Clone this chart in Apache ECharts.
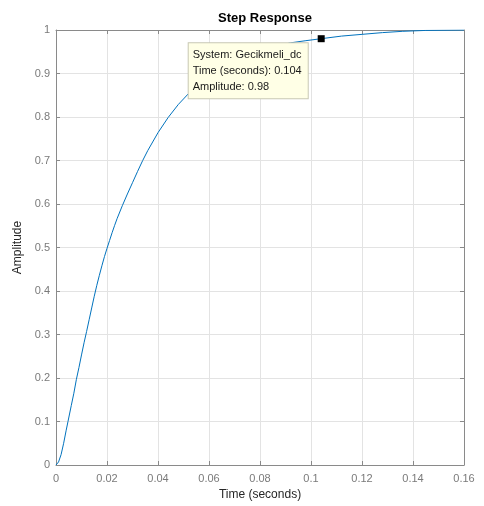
<!DOCTYPE html>
<html lang="en">
    <head>
        <meta charset="UTF-8" />
        <title>Step Response</title>
        <style>
            * {
                box-sizing: border-box;
                margin: 0;
                padding: 0;
            }
            body {
                background: #fff;
            }
            .container {
                width: 484px;
                height: 506px;
            }
        </style>
    </head>
    <body>
        <div class="container" id="chart"></div>
        <script src="https://cdn.jsdelivr.net/npm/echarts@6/dist/echarts.min.js"></script>
        <script>
            // 读图得到的数据点 (time, amplitude)
            var times = [0, 0.001, 0.002, 0.003, 0.004, 0.0047, 0.006, 0.007, 0.008, 0.009, 0.01, 0.011, 0.012, 0.013, 0.014, 0.015, 0.016, 0.017, 0.018, 0.019, 0.02, 0.021, 0.022, 0.023, 0.024, 0.026, 0.028, 0.03, 0.032, 0.034, 0.036, 0.04, 0.044, 0.048, 0.052, 0.056, 0.06, 0.065, 0.07, 0.075, 0.08, 0.086, 0.092, 0.098, 0.104, 0.112, 0.12, 0.128, 0.136, 0.145, 0.16]
            var amps = [0, 0.007, 0.024, 0.05, 0.08, 0.1, 0.137, 0.165, 0.197, 0.224, 0.253, 0.281, 0.307, 0.334, 0.361, 0.388, 0.413, 0.436, 0.458, 0.479, 0.498, 0.516, 0.534, 0.551, 0.567, 0.596, 0.623, 0.649, 0.675, 0.7, 0.723, 0.764, 0.799, 0.829, 0.854, 0.876, 0.894, 0.913, 0.929, 0.942, 0.952, 0.9625, 0.9705, 0.9755, 0.98, 0.986, 0.99, 0.994, 0.997, 0.999, 1.0]
            var xTicks = [0, 0.16, 0.02] // min, max, interval
            var yTicks = [0, 1, 0.1]
            var marker = { system: 'Gecikmeli_dc', time: 0.104, amp: 0.98 }

            var font = 'Liberation Sans, Arial, sans-serif'
            var axisGray = '#8a8a8a'
            var gridGray = '#e3e3e3'

            var chart = echarts.init(document.getElementById('chart'))

            // 上下左右都画框 + 内向刻度
            function xAxis(pos, show) {
                return {
                    type: 'value',
                    position: pos,
                    min: xTicks[0],
                    max: xTicks[1],
                    interval: xTicks[2],
                    name: show ? 'Time (seconds)' : '',
                    nameLocation: 'middle',
                    nameGap: 24,
                    nameTextStyle: { color: '#262626', fontSize: 12, fontFamily: font },
                    axisLine: { show: true, onZero: false, lineStyle: { color: axisGray, width: 1 } },
                    axisTick: { show: true, inside: true, length: 4, lineStyle: { color: axisGray } },
                    axisLabel: { show: show, color: '#7a7a7a', fontSize: 11, fontFamily: font, margin: 8 },
                    splitLine: { show: show, lineStyle: { color: gridGray, width: 1 } }
                }
            }
            function yAxis(pos, show) {
                return {
                    type: 'value',
                    position: pos,
                    min: yTicks[0],
                    max: yTicks[1],
                    interval: yTicks[2],
                    name: show ? 'Amplitude' : '',
                    nameLocation: 'middle',
                    nameGap: 28,
                    nameTextStyle: { color: '#262626', fontSize: 12, fontFamily: font },
                    axisLine: { show: true, onZero: false, lineStyle: { color: axisGray, width: 1 } },
                    axisTick: { show: true, inside: true, length: 4, lineStyle: { color: axisGray } },
                    axisLabel: { show: show, color: '#7a7a7a', fontSize: 11, fontFamily: font, margin: 6 },
                    splitLine: { show: show, lineStyle: { color: gridGray, width: 1 } }
                }
            }

            chart.setOption({
                animation: false,
                backgroundColor: '#fff',
                title: {
                    text: 'Step Response',
                    left: 260,
                    textAlign: 'center',
                    top: 7,
                    textStyle: { fontSize: 13, fontWeight: 'bold', color: '#000', fontFamily: font }
                },
                grid: { left: 56, right: 20, top: 30, bottom: 41 },
                xAxis: [xAxis('bottom', true), xAxis('top', false)],
                yAxis: [yAxis('left', true), yAxis('right', false)],
                series: [
                    {
                        type: 'line',
                        data: times.map(function (t, i) {
                            return [t, amps[i]]
                        }),
                        showSymbol: false,
                        lineStyle: { color: '#0072BD', width: 1 },
                        markPoint: {
                            symbol: 'rect',
                            symbolSize: 7,
                            itemStyle: { color: '#000' },
                            label: {
                                show: true,
                                position: [-129, 8],
                                formatter: [
                                    'System: ' + marker.system,
                                    'Time (seconds): ' + marker.time,
                                    'Amplitude: ' + marker.amp
                                ].join('\n'),
                                color: '#1a1a1a',
                                fontSize: 11,
                                fontFamily: font,
                                lineHeight: 16,
                                backgroundColor: '#ffffe6',
                                borderColor: '#c8c8b4',
                                borderWidth: 1,
                                padding: [4, 6, 3, 4]
                            },
                            data: [{ coord: [marker.time, marker.amp] }]
                        }
                    }
                ]
            })
        </script>
    </body>
</html>
